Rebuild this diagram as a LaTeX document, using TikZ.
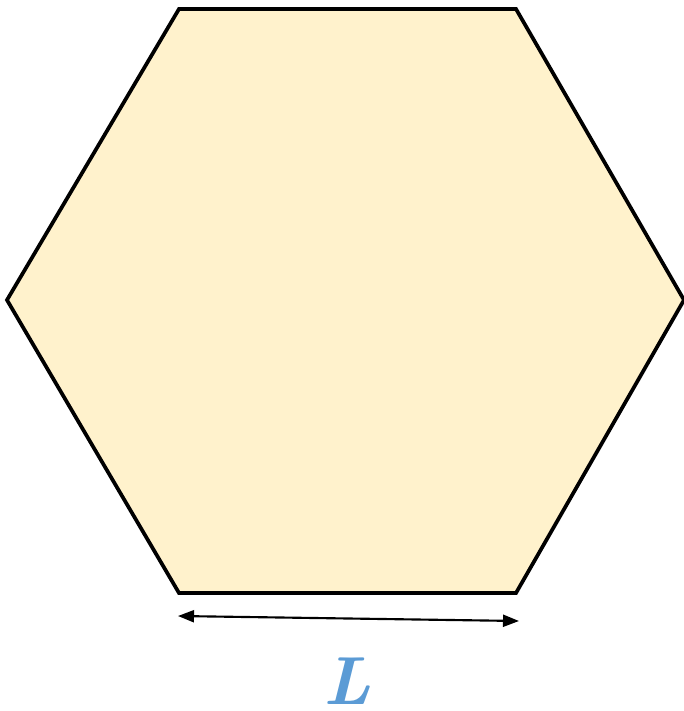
\documentclass[tikz,border=0pt]{standalone}
\usepackage{tikz}
\usetikzlibrary{positioning,calc,arrows.meta}
\definecolor{hexfill}{HTML}{FFF2CC}
\definecolor{lblue}{HTML}{5B9BD5}

\begin{document}
\begin{tikzpicture}[x=0.75pt,y=-0.75pt,
    hexa/.style={draw=black,line width=2.8pt,fill=hexfill,line join=miter},
    dim/.style={line width=1.6pt,{Triangle[length=12pt,width=9pt]}-{Triangle[length=12pt,width=9pt]}},
    lbl/.style={text=lblue,font=\fontsize{51}{51}\selectfont\bfseries\itshape,inner sep=0pt}]

\useasboundingbox (0,0) rectangle (684,711);

% hexagon corners
\coordinate (tl) at (179,9);
\coordinate (tr) at (516,9);
\coordinate (r) at (684,300);
\coordinate (br) at (516,593);
\coordinate (bl) at (179,593);
\coordinate (l) at (7,300);

\draw[hexa] (tl) -- (tr) -- (r) -- (br) -- (bl) -- (l) -- cycle;

% side length
\coordinate (dl) at (178,616);
\coordinate (dr) at (519,621);
\draw[dim] (dl) -- (dr);

\node[lbl] (len) at (347,681) {L};

\end{tikzpicture}
\end{document}
